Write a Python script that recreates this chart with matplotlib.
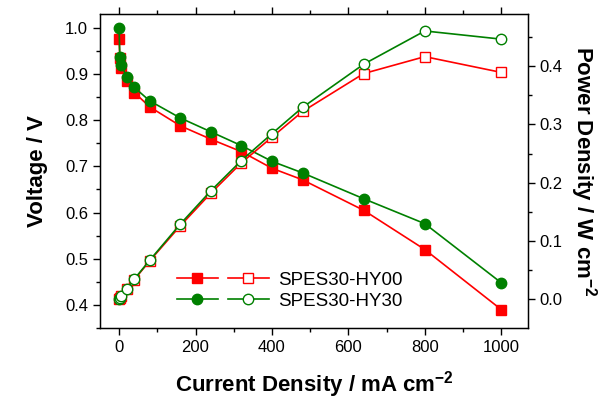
import matplotlib
matplotlib.use("Agg")
import matplotlib.pyplot as plt
from matplotlib.legend_handler import HandlerTuple
from matplotlib.ticker import MultipleLocator

plt.rcParams["font.family"] = ["Liberation Sans", "DejaVu Sans"]

# current density, mA cm-2
current = [0, 2, 6, 20, 40, 80, 160, 240, 320, 400, 480, 640, 800, 1000]

# voltage, V
volt_hy00 = [0.976, 0.934, 0.913, 0.885, 0.860, 0.829, 0.788, 0.759, 0.732,
             0.696, 0.671, 0.605, 0.520, 0.390]
volt_hy30 = [1.000, 0.937, 0.920, 0.893, 0.871, 0.842, 0.805, 0.775, 0.745,
             0.711, 0.686, 0.630, 0.576, 0.448]

# power density, W cm-2
power_hy00 = [0.0, 0.002, 0.0055, 0.0177, 0.034, 0.066, 0.126, 0.182, 0.234,
              0.278, 0.322, 0.387, 0.416, 0.389]
power_hy30 = [0.0, 0.002, 0.0055, 0.018, 0.035, 0.067, 0.129, 0.186, 0.238,
              0.284, 0.329, 0.403, 0.460, 0.446]

labels = ["SPES30-HY00", "SPES30-HY30"]
red = "#ff0000"
green = "#008000"

fig = plt.figure(figsize=(6.03, 4.01), dpi=100)
ax = fig.add_axes([0.1658, 0.182, 0.7098, 0.783])
ax2 = ax.twinx()

ms = 7.5
lw = 1.2
v00, = ax.plot(current, volt_hy00, color=red, lw=lw, marker="s", ms=ms - 0.5,
               mfc=red, mec=red, zorder=3)
v30, = ax.plot(current, volt_hy30, color=green, lw=lw, marker="o", ms=ms,
               mfc=green, mec=green, zorder=4)
p00, = ax2.plot(current, power_hy00, color=red, lw=lw, marker="s", ms=ms - 0.5,
                mfc="white", mec=red, mew=1.0, zorder=3)
p30, = ax2.plot(current, power_hy30, color=green, lw=lw, marker="o", ms=ms,
                mfc="white", mec=green, mew=1.0, zorder=4)

ax.set_xlim(-50, 1070)
ax.set_ylim(0.35, 1.03)
ax2.set_ylim(-0.049, 0.489)

ax.xaxis.set_major_locator(MultipleLocator(200))
ax.xaxis.set_minor_locator(MultipleLocator(100))
ax.yaxis.set_major_locator(MultipleLocator(0.1))
ax.yaxis.set_minor_locator(MultipleLocator(0.05))
ax2.yaxis.set_major_locator(MultipleLocator(0.1))
ax2.yaxis.set_minor_locator(MultipleLocator(0.05))

ax.tick_params(which="both", direction="out", labelsize=12, top=True,
               right=False, width=1.0)
ax.tick_params(which="major", length=5)
ax.tick_params(which="minor", length=3)
ax.tick_params(axis="x", which="both", top=True, labeltop=False)
ax2.tick_params(which="both", direction="out", labelsize=12, width=1.0)
ax2.tick_params(which="major", length=5)
ax2.tick_params(which="minor", length=3)

ax.set_yticklabels([f"{t:.1f}" for t in ax.get_yticks()])
ax2.set_yticklabels([f"{t:.1f}" for t in ax2.get_yticks()])

for s in ax.spines.values():
    s.set_linewidth(1.0)

ax.set_xlabel("Current Density / mA cm$^{\\mathregular{-2}}$", fontsize=16,
              fontweight="bold", labelpad=10)
ax.set_ylabel("Voltage / V", fontsize=16, fontweight="bold", labelpad=12)
ax2.set_ylabel("Power Density / W cm$^{\\mathregular{-2}}$", fontsize=16,
               fontweight="bold", rotation=270, labelpad=26)

ax2.legend([(v00, p00), (v30, p30)], labels,
           handler_map={tuple: HandlerTuple(ndivide=None, pad=0.55)},
           handlelength=4.9, fontsize=13.5, frameon=False,
           loc="lower left", bbox_to_anchor=(0.14, 0.005),
           labelspacing=0.2, handletextpad=0.5)

fig.savefig("out.png", dpi=100)
